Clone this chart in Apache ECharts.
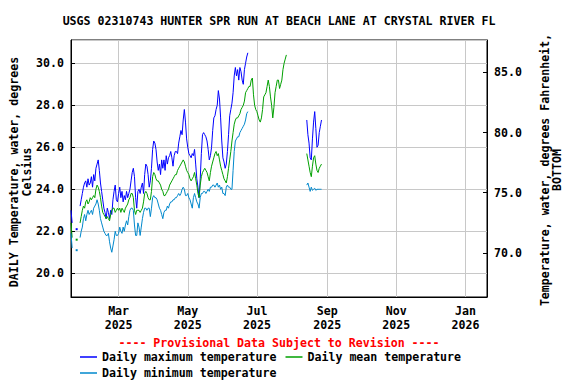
<!DOCTYPE html>
<html><head><meta charset="utf-8">
<script src="https://cdn.jsdelivr.net/npm/echarts@6/dist/echarts.min.js"></script>
<style>html,body{margin:0;padding:0;background:#fff}#c{width:576px;height:384px}</style>
</head><body><div id="c"></div>
<script>
// ---------------- DATA ----------------
const titleText = 'USGS 02310743 HUNTER SPR RUN AT BEACH LANE AT CRYSTAL RIVER FL';
const seriesNames = ['Daily maximum temperature', 'Daily mean temperature', 'Daily minimum temperature'];
const seg1Start = [2025, 0, 18];   // first daily value
const seg2Start = [2025, 7, 14];   // second block of daily values
const axisStart = [2025, 0, 18];
const axisEnd = [2026, 0, 20];
const tickDates = [[2025, 2, 1], [2025, 4, 1], [2025, 6, 1], [2025, 8, 1], [2025, 10, 1], [2026, 0, 1]];
const tickLabels = ['Mar\n2025', 'May\n2025', 'Jul\n2025', 'Sep\n2025', 'Nov\n2025', 'Jan\n2026'];

const maxSeg1 = [23.0,22.4,null,null,null,22.1,null,null,
  23.2,23.5,23.8,24.1,24.3,24.4,24.1,24.5,24.2,24.3,
  24.6,24.1,24.7,24.4,25.0,25.2,25.4,24.9,24.3,23.9,
  23.5,23.1,22.9,22.6,23.1,22.9,22.6,23.0,22.8,23.5,
  23.9,24.2,23.5,23.4,23.8,24.1,23.6,23.9,23.4,23.7,
  23.5,23.9,23.6,23.8,24.0,24.4,24.8,25.0,24.6,23.6,
  23.1,23.9,24.0,23.8,24.1,24.3,23.8,24.7,25.2,25.1,
  24.7,24.1,24.4,25.0,25.9,26.3,26.2,25.9,25.3,24.9,
  25.2,24.7,25.4,25.0,25.4,24.9,25.6,25.2,25.5,25.6,
  25.8,25.5,25.1,25.6,25.8,25.8,25.7,26.2,26.5,26.8,
  26.6,27.3,27.8,27.2,26.4,26.0,25.7,25.6,25.5,25.7,
  25.6,25.9,25.2,24.5,24.1,23.6,24.5,25.7,26.6,26.7,
  26.6,26.5,26.3,25.9,25.4,25.6,26.0,26.8,27.4,27.5,
  27.8,28.0,28.7,28.3,27.4,26.3,25.5,25.3,25.0,25.2,
  25.8,26.6,27.5,27.8,28.1,28.6,29.4,29.8,29.4,29.7,
  29.2,29.8,29.6,29.2,29.0,29.7,30.0,30.3,30.5];
const maxSeg2 = [27.3,26.6,26.2,25.5,25.4,26.4,27.2,27.7,26.9,26.0,26.1,26.7,27.0,27.3];

const meanSeg1 = [22.4,21.7,null,null,null,21.6,null,null,
  22.4,22.7,23.0,23.2,23.1,23.4,23.5,23.3,23.4,23.6,
  23.5,23.6,23.7,23.6,24.0,24.2,24.1,23.9,23.6,23.2,
  22.9,22.8,22.7,22.6,22.7,22.6,22.5,22.8,23.0,23.1,
  23.1,22.9,23.0,23.1,23.0,23.1,22.9,23.1,23.0,22.9,
  23.1,23.2,23.3,23.5,23.6,23.8,23.8,23.6,23.0,22.8,
  23.0,23.0,23.0,22.9,23.0,23.1,23.4,23.8,23.9,23.8,
  23.6,23.5,23.5,23.9,24.6,24.8,24.7,24.5,24.4,24.4,
  24.3,24.2,24.0,23.9,23.7,23.7,23.8,23.9,24.0,24.2,
  24.3,24.4,24.5,24.6,24.7,24.7,24.9,25.0,25.1,25.2,
  25.3,25.4,25.3,25.1,24.9,24.8,24.7,24.5,24.4,24.5,
  24.6,24.8,24.5,24.2,23.8,23.6,24.2,24.6,24.8,24.9,
  25.0,24.9,24.8,24.6,24.4,24.8,25.1,25.3,25.5,25.7,
  25.8,25.6,25.7,25.4,25.1,24.9,24.7,24.5,24.4,24.3,
  24.6,25.0,25.4,25.8,26.3,26.7,27.1,27.3,27.4,27.4,
  27.5,27.6,27.8,27.9,28.0,28.2,28.6,28.7,28.8,28.9,
  28.9,29.2,29.3,28.5,28.0,27.8,27.7,27.5,27.3,27.2,
  27.4,27.8,28.4,28.5,28.6,28.9,29.2,28.9,28.4,28.0,
  27.4,27.9,28.6,28.9,29.2,29.2,28.8,29.0,29.2,29.7,
  30.0,30.2,30.4];
const meanSeg2 = [25.7,25.4,25.1,24.8,24.6,25.1,25.5,25.6,25.2,24.9,24.8,25.0,25.1,25.2];

const minSeg1 = [21.9,21.2,null,null,null,21.1,null,null,
  21.7,22.0,22.2,22.6,22.8,22.5,22.8,23.0,22.8,22.9,
  23.0,22.8,23.1,23.2,23.3,23.5,23.3,23.0,22.6,22.4,
  22.2,22.0,21.9,21.8,21.8,21.9,21.5,21.2,21.0,21.3,
  21.6,22.0,21.8,21.8,21.9,22.2,22.0,21.9,22.2,22.0,
  22.3,22.5,22.3,22.7,23.0,23.1,23.1,23.0,22.3,21.8,
  21.8,22.4,22.2,21.8,22.2,22.6,22.9,23.1,23.1,23.0,
  23.1,23.1,22.7,23.1,23.6,23.7,23.6,23.6,23.5,23.3,
  23.1,23.0,22.8,22.6,22.9,23.0,23.0,23.2,23.1,23.3,
  23.4,23.4,23.5,23.5,23.6,23.6,23.7,23.8,23.7,23.8,
  24.0,24.1,24.0,23.7,23.7,23.8,23.6,23.5,23.3,23.1,
  23.6,23.8,23.6,23.4,23.3,23.1,23.6,23.8,23.8,23.9,
  23.9,23.8,23.9,24.0,23.9,24.1,24.1,24.2,24.2,24.1,
  24.2,24.3,24.1,24.2,24.0,24.1,23.8,23.8,23.7,24.1,
  24.2,24.1,24.1,24.0,24.0,24.9,25.8,26.3,26.4,26.5,
  26.5,26.7,26.8,26.9,27.0,27.1,27.3,27.6,27.7];
const minSeg2 = [24.2,24.3,24.1,23.9,24.1,23.95,24.0,24.05,23.95,24.0,24.0,24.0,24.0,24.0];

const leftMin = 18.87, leftMax = 31.11;   // degrees C
const rightMin = 66.33, rightMax = 87.69; // degrees F (as labelled on the right axis)

// ---------------- BUILD ----------------
const ymd = a => new Date(a[0], a[1], a[2]).getTime();
const DAY = 86400000;
function segData(startArr, vals) {
  return vals.map((v, i) => {
    const t = new Date(startArr[0], startArr[1], startArr[2] + i).getTime();
    const iso = v != null && i > 0 && vals[i - 1] == null && (i === vals.length - 1 || vals[i + 1] == null);
    return iso ? { value: [t, v], symbol: 'rect', symbolSize: [2, 2] } : [t, v];
  });
}
function build(s1, s2) {
  const a = segData(seg1Start, s1);
  const b = segData(seg2Start, s2);
  return a.concat([[ymd(seg2Start) - DAY * 3, null]], b);
}
const colors = ['#0000ff', '#00a000', '#0088cc'];
const FF = 'DejaVu Sans Mono';
const TXT = { fontFamily: FF, fontWeight: 'bold', fontSize: 11.6, color: '#000' };
const tickTimes = tickDates.map(ymd);

function lineSeries(name, s1, s2, color) {
  return {
    name, type: 'line', data: build(s1, s2), yAxisIndex: 0, z: 3,
    showSymbol: true, showAllSymbol: true, symbol: 'none', connectNulls: false,
    lineStyle: { color, width: 1 }, itemStyle: { color },
    emphasis: { disabled: true }, silent: true
  };
}
function gText(x, y, text, rot, fill) {
  return { type: 'text', x, y, rotation: rot, silent: true,
    style: { text, fontFamily: FF, fontWeight: 'bold', fontSize: 11.6, fill: fill || '#000',
      align: 'center', verticalAlign: 'middle', textAlign: 'center', textVerticalAlign: 'middle' } };
}

const chart = echarts.init(document.getElementById('c'), null, { renderer: 'svg' });
chart.setOption({
  animation: false,
  backgroundColor: '#fff',
  grid: { left: 71, right: 89, top: 40, bottom: 87, show: true, borderColor: '#000', borderWidth: 1, backgroundColor: 'transparent' },
  xAxis: {
    type: 'value', min: ymd(axisStart), max: ymd(axisEnd),
    axisLine: { show: true, lineStyle: { color: '#000', width: 1 } },
    axisTick: { show: false },
    splitLine: { show: false },
    axisLabel: {
      customValues: tickTimes, ...TXT, lineHeight: 14, margin: 7, hideOverlap: false,
      formatter: (v) => { const i = tickTimes.indexOf(v); return i >= 0 ? tickLabels[i] : ''; }
    }
  },
  yAxis: [
    {
      type: 'value', min: leftMin, max: leftMax, splitNumber: 6, position: 'left',
      axisLine: { show: true, lineStyle: { color: '#000' } },
      axisTick: { show: true, inside: true, length: 4, lineStyle: { color: '#000' } },
      splitLine: { show: true, lineStyle: { color: '#c8c8c8', width: 1 } },
      axisLabel: { ...TXT, margin: 7, showMinLabel: false, showMaxLabel: false, formatter: v => v.toFixed(1) }
    },
    {
      type: 'value', min: rightMin, max: rightMax, splitNumber: 4, position: 'right',
      axisLine: { show: true, lineStyle: { color: '#000' } },
      axisTick: { show: true, inside: true, length: 4, lineStyle: { color: '#000' } },
      splitLine: { show: false },
      axisLabel: { ...TXT, margin: 7, showMinLabel: false, showMaxLabel: false, formatter: v => v.toFixed(1) }
    }
  ],
  legend: [
    { data: [seriesNames[0], seriesNames[1]], left: 80, top: 350, orient: 'horizontal', icon: 'rect',
      itemWidth: 17, itemHeight: 1.5, itemGap: 9, padding: 0, selectedMode: false,
      textStyle: { ...TXT, lineHeight: 14 } },
    { data: [seriesNames[2]], left: 80, top: 366, orient: 'horizontal', icon: 'rect',
      itemWidth: 17, itemHeight: 1.5, itemGap: 9, padding: 0, selectedMode: false,
      textStyle: { ...TXT, lineHeight: 14 } }
  ],
  series: [
    {
      name: 'grid', type: 'line', data: [[ymd(axisStart), null]], z: 1, silent: true,
      showSymbol: false, lineStyle: { width: 0 },
      markLine: {
        silent: true, symbol: ['none', 'none'], z: 1, animation: false,
        label: { show: false }, emphasis: { disabled: true },
        lineStyle: { color: '#c8c8c8', width: 1, type: 'solid' },
        data: tickTimes.map(t => ({ xAxis: t }))
      }
    },
    lineSeries(seriesNames[0], maxSeg1, maxSeg2, colors[0]),
    lineSeries(seriesNames[1], meanSeg1, meanSeg2, colors[1]),
    lineSeries(seriesNames[2], minSeg1, minSeg2, colors[2])
  ],
  graphic: [
    gText(279, 21, titleText, 0),
    gText(279, 343, '---- Provisional Data Subject to Revision ----', 0, '#ff0000'),
    gText(14, 172, 'DAILY Temperature, water, degrees', Math.PI / 2),
    gText(27, 172, 'Celsius', Math.PI / 2),
    gText(545, 170, 'Temperature, water, degrees Fahrenheit,', Math.PI / 2),
    gText(557, 170, 'BOTTOM', Math.PI / 2)
  ]
});
</script>
</body></html>
